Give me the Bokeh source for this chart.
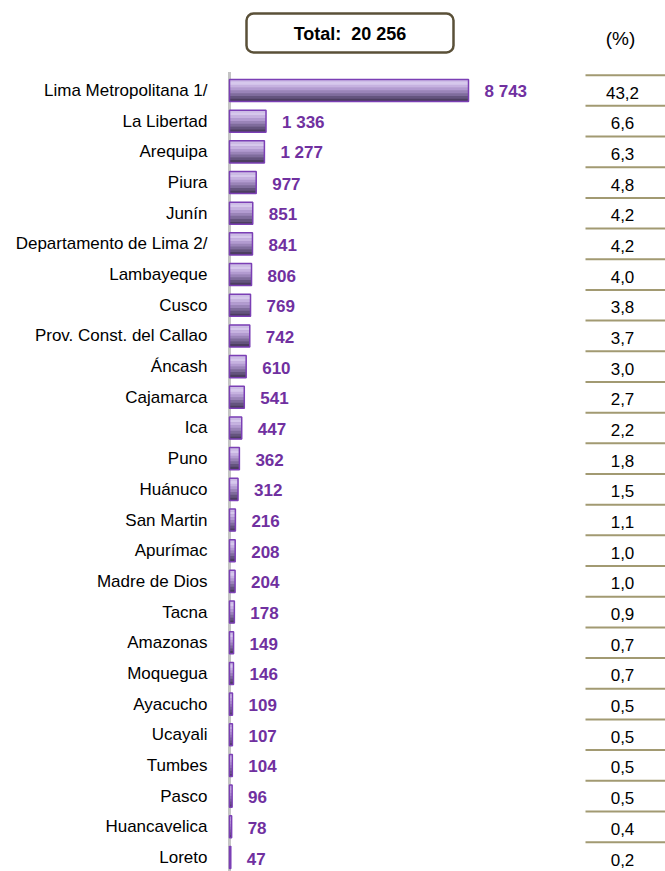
from bokeh.plotting import figure
from bokeh.models import Range1d, FixedTicker, ColumnDataSource
from bokeh.core.properties import value
from bokeh.embed import file_html
from bokeh.resources import INLINE

regions = ["Lima Metropolitana 1/", "La Libertad", "Arequipa", "Piura", "Junín",
           "Departamento de Lima 2/", "Lambayeque", "Cusco", "Prov. Const. del Callao",
           "Áncash", "Cajamarca", "Ica", "Puno", "Huánuco", "San Martin", "Apurímac",
           "Madre de Dios", "Tacna", "Amazonas", "Moquegua", "Ayacucho", "Ucayali",
           "Tumbes", "Pasco", "Huancavelica", "Loreto"]
counts = [8743, 1336, 1277, 977, 851, 841, 806, 769, 742, 610, 541, 447, 362, 312,
          216, 208, 204, 178, 149, 146, 109, 107, 104, 96, 78, 47]
percents = [43.2, 6.6, 6.3, 4.8, 4.2, 4.2, 4.0, 3.8, 3.7, 3.0, 2.7, 2.2, 1.8, 1.5,
            1.1, 1.0, 1.0, 0.9, 0.7, 0.7, 0.5, 0.5, 0.5, 0.5, 0.4, 0.2]
total_label = "Total:\u00a0 20 256"
pct_header = "(%)"

FONT = "Liberation Sans Narrow, Arial Narrow, Liberation Sans, sans-serif"
UPX = 36.58          # data units per pixel on x
ROW = 30.68          # pixels per row
X0 = 229             # pixel x of the bar base

n = len(regions)
idx = list(range(n))
src = ColumnDataSource(dict(
    y=idx, v=counts,
    vlab=[f"{c:,}".replace(",", " ") for c in counts],
    pct=[f"{p:.1f}".replace(".", ",") for p in percents],
))

W, H = 665, 871
top_px = 90  # px of first row center
y_top = -top_px / ROW
y_bot = (H - top_px) / ROW

p = figure(width=W, height=H, output_backend="svg", toolbar_location=None,
           x_range=Range1d(-2 * UPX, (W - X0) * UPX),
           y_range=Range1d(y_bot, y_top),
           min_border_left=X0 - 2, min_border_right=0, min_border_top=0, min_border_bottom=0,
           x_axis_location=None)
p.outline_line_color = None
p.grid.visible = False
p.background_fill_color = "white"

# category axis
yax = p.yaxis[0]
yax.ticker = FixedTicker(ticks=idx)
yax.major_label_overrides = {i: r for i, r in enumerate(regions)}
yax.axis_line_color = None
yax.major_tick_line_color = None
yax.minor_tick_line_color = None
yax.major_label_standoff = 14
yax.major_label_text_font = FONT
yax.major_label_text_font_size = "17px"
yax.major_label_text_color = "black"

# base axis line (gray)
p.segment(x0=0, y0=-0.6, x1=0, y1=y_bot, line_color="#c4c4c4", line_width=3)

# bars with a pseudo gradient
bh = 0.72
p.hbar(y="y", right="v", left=0, height=bh, source=src, fill_color="#9a84b6",
       line_color=None)
shades = ["#cdbce6", "#d6c8ec", "#c6b2e0", "#b29bd0", "#9a84b8", "#7f6c9c",
          "#64547e", "#4c3e60"]
k = len(shades)
for j, c in enumerate(shades):
    off = -bh / 2 + (j + 0.5) * bh / k
    p.hbar(y=[i + off for i in idx], right=counts, left=0, height=bh / k * 1.08,
           fill_color=c, line_color=None)
p.hbar(y="y", right="v", left=0, height=bh, source=src, fill_color=None,
       line_color="#7b3fb5", line_width=1.5)

# value labels
p.text(x="v", y="y", text="vlab", source=src, x_offset=16, text_align="left",
       text_baseline="middle", text_font=value(FONT), text_font_size="17px",
       text_font_style="bold", text_color="#7030a0", y_offset=1)

# percentage table
x_l = (585 - X0) * UPX
x_r = (W - X0) * UPX
p.segment(x0=x_l, x1=x_r, y0=[i - 0.5 for i in idx], y1=[i - 0.5 for i in idx],
          line_color="#a29a72", line_width=2)
x_c = (622 - X0) * UPX
p.text(x=x_c, y="y", text="pct", source=src, text_align="center",
       text_baseline="middle", text_font=value(FONT), text_font_size="17px",
       text_color="black", y_offset=2)
p.text(x=[(620 - X0) * UPX], y=[(38 - top_px) / ROW], text=[pct_header], text_align="center",
       text_baseline="middle", text_font=value(FONT), text_font_size="19px",
       text_color="black")

# total box
bl, br = (246 - X0) * UPX, (453 - X0) * UPX
bt, bb = (13 - top_px) / ROW, (52 - top_px) / ROW
p.quad(left=[bl], right=[br], top=[bt], bottom=[bb], fill_color="white",
       line_color="#5a5038", line_width=2.5, border_radius=7)
p.text(x=[(bl + br) / 2], y=[(33 - top_px) / ROW], text=[total_label], text_align="center",
       text_baseline="middle", text_font=value(FONT), text_font_size="18px",
       text_font_style="bold", text_color="black")

open("out.html", "w").write(file_html(p, INLINE))
